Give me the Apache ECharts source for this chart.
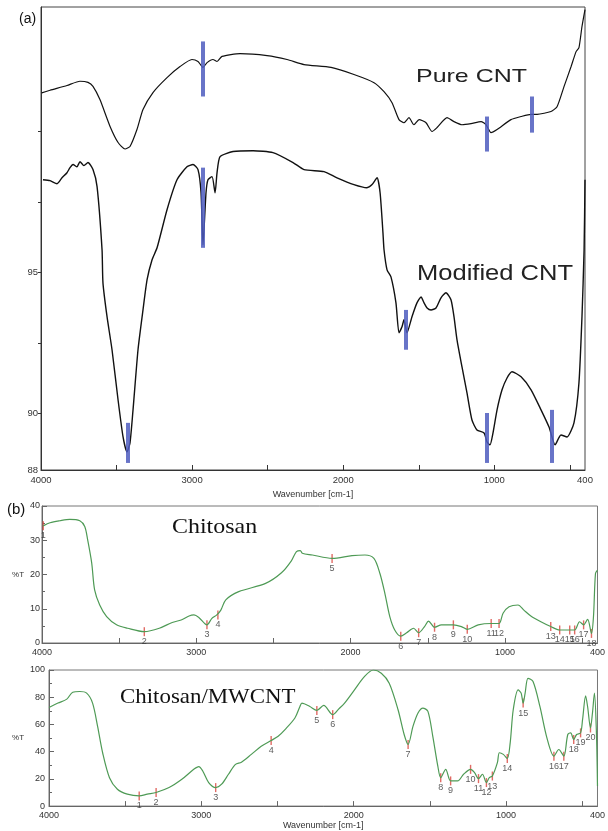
<!DOCTYPE html>
<html>
<head>
<meta charset="utf-8">
<title>FTIR spectra</title>
<script src="https://cdn.jsdelivr.net/npm/echarts@6/dist/echarts.min.js"></script>
<style>
html, body { margin: 0; padding: 0; background: #fff; }
#main { width: 608px; height: 831px; }
</style>
</head>
<body>
<div id="main"></div>
<script>
// (a) pure / modified CNT : wavenumber [cm-1] -> %T
var pureWave = [3995,3940,3828,3742,3689,3656,3610,3543,3490,3444,3411,3365,3325,3259,3166,3080,3001,2961,2928,2901,2862,2835,2802,2683,2504,2372,2259,2081,1929,1796,1730,1677,1631,1598,1565,1532,1498,1452,1412,1379,1313,1267,1214,1154,1088,1055,1022,982,890,823,757,717,625,585,539,492,459,440,420,400];
var pureT = [101.36,101.45,101.62,101.77,101.73,101.59,101.12,100.17,99.60,99.37,99.46,100.06,100.77,101.37,101.90,102.29,102.54,102.47,102.26,102.43,102.54,102.47,102.65,102.75,102.68,102.54,102.36,102.26,102.01,101.72,101.40,101.01,100.41,100.30,100.48,100.23,100.41,100.30,99.99,100.13,100.48,100.34,100.23,100.27,100.34,100.23,99.95,100.06,100.41,100.52,100.60,100.60,100.70,100.87,101.58,102.29,102.82,102.96,103.71,104.31];

var modWave = [3987,3940,3894,3861,3828,3808,3788,3762,3742,3716,3689,3656,3629,3596,3590,3563,3530,3490,3457,3431,3411,3391,3358,3325,3298,3265,3232,3166,3100,3034,2994,2961,2941,2928,2908,2895,2868,2848,2835,2815,2729,2597,2465,2332,2259,2127,2041,1929,1843,1809,1776,1756,1737,1730,1710,1684,1651,1631,1611,1598,1578,1545,1512,1485,1465,1445,1419,1386,1353,1320,1287,1267,1247,1214,1181,1148,1115,1068,1048,1029,1009,982,949,916,883,823,757,691,638,598,559,519,473,440,420,406,400];
var modT = [98.28,98.25,98.14,98.35,98.53,98.71,98.82,98.74,98.92,98.78,98.89,98.64,98.04,95.80,94.63,93.43,92.26,90.48,89.17,88.64,88.96,90.13,92.26,93.67,94.74,95.45,95.87,97.22,98.28,98.74,98.82,98.64,97.82,95.98,97.82,98.28,98.39,97.82,98.53,99.10,99.28,99.31,99.24,98.89,98.64,98.57,98.35,98.11,98.00,98.11,98.35,97.82,96.40,95.80,95.09,94.84,93.92,92.86,93.07,93.32,92.86,93.43,93.92,94.13,93.92,93.74,93.67,93.74,94.10,94.28,94.03,93.43,92.61,91.65,90.73,89.77,89.42,89.31,88.99,88.89,89.31,90.13,90.84,91.26,91.48,91.30,90.84,90.13,89.52,88.89,89.24,89.17,89.67,91.09,93.43,95.80,98.28];

// blue pen marks on (a)
var bandWave = [2928,1048,750,2928,3424,1589,1048,618];
var bandTop = [103.18,100.52,101.23,98.71,89.67,93.67,90.02,90.13];
var bandBottom = [101.23,99.28,99.95,95.87,88.25,92.26,88.25,88.25];

// (b) chitosan
var chitWave = [3992,3948,3884,3820,3755,3723,3704,3678,3659,3626,3581,3517,3446,3337,3240,3156,3098,3047,3015,2982,2931,2899,2867,2841,2809,2725,2551,2448,2384,2351,2326,2313,2248,2120,1991,1907,1849,1810,1778,1746,1714,1675,1637,1592,1559,1521,1495,1456,1411,1334,1282,1244,1173,1089,1038,1012,973,915,877,832,767,703,645,580,548,516,490,464,439,426,413,400];
var chitT = [34.2,35.1,35.7,36.1,35.7,34.0,30.1,23.4,15.5,11.1,7.7,5.3,4.3,3.3,4.3,6.0,6.7,7.9,8.2,7.4,5.3,7.2,8.2,9.6,12.6,15.0,17.4,20.5,24.0,26.7,27.0,26.2,25.7,24.7,25.5,25.7,24.7,20.3,14.5,7.7,3.8,2.0,3.0,4.3,3.0,4.8,6.4,4.6,5.3,5.3,4.8,4.0,5.3,5.7,5.7,8.7,10.6,11.1,9.6,7.9,6.2,4.8,3.8,3.8,3.8,6.2,5.3,6.9,2.8,7.7,20.3,21.3];
var chitPeakWave = [3992,3337,2931,2860,2120,1675,1559,1456,1334,1244,1089,1038,703,645,580,548,490,439];
var chitPeakT = [34.2,3.3,5.3,8.2,24.7,2.0,3.0,4.6,5.3,4.0,5.7,5.7,4.8,3.8,3.8,3.8,5.3,2.8];

// (b) chitosan/MWCNT
var mwWave = [4000,3941,3883,3844,3798,3753,3714,3681,3648,3603,3551,3486,3408,3355,3297,3212,3128,3050,3017,2991,2952,2906,2867,2822,2776,2737,2672,2607,2542,2496,2451,2386,2353,2340,2288,2242,2197,2138,2099,2060,1995,1930,1871,1819,1767,1709,1669,1643,1611,1578,1546,1513,1481,1448,1429,1396,1364,1318,1279,1233,1207,1181,1155,1129,1110,1090,1057,1044,1018,992,973,953,921,901,888,875,856,823,778,732,686,654,621,595,576,556,537,511,498,478,465,446,433,420,407,400];
var mwT = [72.5,75.7,78.6,83.7,84.2,83.0,75.7,58.6,39.2,20.9,12.4,8.8,7.5,8.8,10.0,13.6,19.7,27.0,29.0,25.8,17.3,13.6,16.1,23.4,30.7,32.3,38.0,44.0,48.2,51.3,56.2,64.7,73.2,75.7,73.2,70.3,74.0,67.2,71.3,75.7,85.4,95.1,100,97.6,90.3,70.8,52.6,45.3,58.6,68.4,72.0,69.6,51.3,29.4,20.9,27.0,18.5,18.5,23.4,27.0,24.6,20.2,23.4,17.3,20.9,22.1,31.9,39.2,38.0,35.0,46.5,70.8,85.4,83.0,75.7,83.0,93.9,91.5,73.2,50.1,36.7,41.6,36.7,52.6,53.8,48.9,52.6,53.8,63.5,81.0,73.2,57.4,68.4,83.0,53.8,14.8];
var mwPeakWave = [3408,3297,2906,2542,2242,2138,1643,1429,1364,1233,1181,1129,1090,992,888,686,621,556,511,446];
var mwPeakT = [7.5,10.0,13.6,48.2,70.3,67.2,45.3,20.9,18.5,27.0,20.2,17.3,22.1,35.0,75.7,36.7,36.7,48.9,53.8,57.4];

// axis ticks / labels
var waveLabels = [4000,3000,2000,1000,400];
var waveTicks = [3500,3000,2500,2000,1500,1000,500];
var aLabels = [88,90,95];
var aTicks = [90,92.5,95,97.5,100];

function zip(xs, ys) {
	var out = [];
	for (var i = 0; i < xs.length; i++) {
		out.push([xs[i], ys[i]]);
	}
	return out;
}

function peaks(xs, ys) {
	var out = [];
	for (var i = 0; i < xs.length; i++) {
		out.push([xs[i], ys[i], String(i + 1)]);
	}
	return out;
}

// no thousands separator on the tick labels
function plain(v) {
	return String(v);
}

function waveAxis(gi, color, showName, gap) {
	return {
		gridIndex: gi, type: 'value', min: 400, max: 4000, inverse: true,
		name: showName ? 'Wavenumber [cm-1]' : '',
		nameLocation: 'middle', nameGap: gap,
		nameTextStyle: { fontSize: 9, color: '#333', fontFamily: 'Liberation Sans' },
		axisLine: { lineStyle: { color: color } },
		axisTick: { inside: true, length: 5, customValues: waveTicks, lineStyle: { color: color } },
		axisLabel: { customValues: waveLabels, formatter: plain, fontSize: gi == 0 ? 9.5 : 9, color: '#333', margin: 5, fontFamily: 'Liberation Sans' },
		splitLine: { show: false }
	};
}

var myChart = echarts.init(document.getElementById('main'));

var greenLine = { color: '#4e9a55', width: 1.2 };
var peakStyle = {
	type: 'scatter', symbol: 'rect', symbolSize: [1.4, 9],
	itemStyle: { color: '#d9463e' },
	label: {
		show: true, position: 'bottom', distance: 1, fontSize: 9, color: '#333',
		fontFamily: 'Liberation Sans',
		formatter: function (p) { return p.value[2]; }
	},
	silent: true
};

var option = {
	animation: false,
	backgroundColor: '#fff',
	grid: [
		{ left: 41, top: 7, width: 544, height: 463, show: true, borderColor: '#444', borderWidth: 1 },
		{ left: 42, top: 506, width: 559, height: 137, show: true, borderColor: '#777', borderWidth: 1 },
		{ left: 49, top: 670, width: 553, height: 137, show: true, borderColor: '#777', borderWidth: 1 }
	],
	xAxis: [
		waveAxis(0, '#333', true, 15),
		waveAxis(1, '#666', false, 0),
		waveAxis(2, '#666', true, 14)
	],
	yAxis: [
		{
			gridIndex: 0, type: 'value', min: 88, max: 104.4,
			axisLine: { lineStyle: { color: '#333' } },
			axisTick: { inside: false, length: 3, customValues: aTicks, lineStyle: { color: '#333' } },
			axisLabel: { customValues: aLabels, formatter: plain, fontSize: 9.5, color: '#333', margin: 3, fontFamily: 'Liberation Sans' },
			splitLine: { show: false }
		},
		{
			gridIndex: 1, type: 'value', min: 0, max: 40, interval: 10,
			name: '%T', nameLocation: 'middle', nameRotate: 0, nameGap: 14,
			nameTextStyle: { fontSize: 8, color: '#333', fontFamily: 'Liberation Sans' },
			axisLine: { lineStyle: { color: '#666' } },
			axisTick: { inside: true, length: 5, lineStyle: { color: '#666' } },
			minorTick: { show: true, splitNumber: 2, length: 3, lineStyle: { color: '#666' } },
			axisLabel: { fontSize: 9, color: '#333', margin: 2, fontFamily: 'Liberation Sans' },
			splitLine: { show: false }
		},
		{
			gridIndex: 2, type: 'value', min: 0, max: 100, interval: 20,
			name: '%T', nameLocation: 'middle', nameRotate: 0, nameGap: 21,
			nameTextStyle: { fontSize: 8, color: '#333', fontFamily: 'Liberation Sans' },
			axisLine: { lineStyle: { color: '#666' } },
			axisTick: { inside: true, length: 5, lineStyle: { color: '#666' } },
			minorTick: { show: true, splitNumber: 2, length: 3, lineStyle: { color: '#666' } },
			axisLabel: { fontSize: 9, color: '#333', margin: 4, fontFamily: 'Liberation Sans' },
			splitLine: { show: false }
		}
	],
	series: [
		{
			name: 'Pure CNT', type: 'line', xAxisIndex: 0, yAxisIndex: 0,
			data: zip(pureWave, pureT), showSymbol: false, smooth: 0.2,
			lineStyle: { color: '#111', width: 1.2 }
		},
		{
			name: 'Modified CNT', type: 'line', xAxisIndex: 0, yAxisIndex: 0,
			data: zip(modWave, modT), showSymbol: false, smooth: 0.2,
			lineStyle: { color: '#111', width: 1.4 },
			markLine: {
				silent: true, symbol: ['none', 'none'],
				label: { show: false },
				lineStyle: { color: 'rgba(78,92,190,0.85)', width: 4, type: 'solid' },
				data: bandWave.map(function (w, i) {
					return [{ coord: [w, bandTop[i]] }, { coord: [w, bandBottom[i]] }];
				})
			}
		},
		{
			name: 'Chitosan', type: 'line', xAxisIndex: 1, yAxisIndex: 1,
			data: zip(chitWave, chitT), showSymbol: false, smooth: 0.3,
			lineStyle: greenLine
		},
		echarts.util.merge({ xAxisIndex: 1, yAxisIndex: 1, data: peaks(chitPeakWave, chitPeakT) }, peakStyle),
		{
			name: 'Chitosan/MWCNT', type: 'line', xAxisIndex: 2, yAxisIndex: 2,
			data: zip(mwWave, mwT), showSymbol: false, smooth: 0.3,
			lineStyle: greenLine
		},
		echarts.util.merge({ xAxisIndex: 2, yAxisIndex: 2, data: peaks(mwPeakWave, mwPeakT) }, peakStyle)
	],
	graphic: [
		{ type: 'text', x: 19, y: 19, style: { text: '(a)', fontSize: 14, fontFamily: 'Liberation Sans', fill: '#111', verticalAlign: 'middle' } },
		{ type: 'text', x: 7, y: 510, style: { text: '(b)', fontSize: 15, fontFamily: 'Liberation Sans', fill: '#111', verticalAlign: 'middle' } },
		{ type: 'text', x: 416, y: 77, scaleX: 1.35, style: { text: 'Pure CNT', fontSize: 18.5, fontFamily: 'Liberation Sans', fill: '#222', verticalAlign: 'middle' } },
		{ type: 'text', x: 417, y: 274, scaleX: 1.16, style: { text: 'Modified CNT', fontSize: 22, fontFamily: 'Liberation Sans', fill: '#222', verticalAlign: 'middle' } },
		{ type: 'text', x: 172, y: 527, scaleX: 1.14, style: { text: 'Chitosan', fontSize: 21, fontFamily: 'Liberation Serif', fill: '#111', verticalAlign: 'middle' } },
		{ type: 'text', x: 120, y: 697, scaleX: 1.09, style: { text: 'Chitosan/MWCNT', fontSize: 21, fontFamily: 'Liberation Serif', fill: '#111', verticalAlign: 'middle' } }
	]
};

myChart.setOption(option);
</script>
</body>
</html>
